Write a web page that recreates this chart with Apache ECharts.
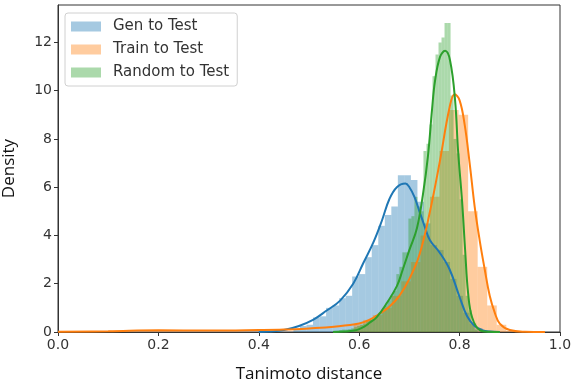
<!DOCTYPE html>
<html>
<head>
<meta charset="utf-8">
<script src="https://cdn.jsdelivr.net/npm/echarts@6/dist/echarts.min.js"></script>
<style>
  html, body { margin: 0; padding: 0; background: #fff; }
  #chart { width: 577px; height: 388px; }
</style>
</head>
<body>
<div id="chart"></div>
<script>
// tanimoto distance distributions (histogram + kde), seaborn distplot look-alike

var seriesNames = ['Gen to Test', 'Train to Test', 'Random to Test'];
var xTicks = [0, 0.2, 0.4, 0.6, 0.8, 1.0];
var yTicks = [0, 2, 4, 6, 8, 10, 12];

// histogram bins: first left edge, bin width, bar heights
var genBinStart = 0.469;
var genBinWidth = 0.013;
var genHeights = [0.1, 0.25, 0.3, 0.6, 0.65, 1.0, 1.1, 1.4, 1.5, 2.3, 2.4, 3.1, 3.6, 4.4, 4.85,
    5.2, 6.5, 6.5, 6.3, 5.4, 4.5, 3.6, 3.4, 2.9, 2.2, 1.5, 0.8, 0.35, 0.15, 0.05];

var trainBinStart = 0.589;
var trainBinWidth = 0.019;
var trainHeights = [0.3, 0.5, 0.7, 1.0, 1.5, 2.1, 2.9, 4.0, 5.6, 7.5, 9.2, 9.0, 5.0, 2.7, 1.1, 0.3, 0.05];

var randBinStart = 0.548;
var randBinWidth = 0.006;
var randHeights = [0.05, 0.05, 0.08, 0.1, 0.1, 0.12, 0.15, 0.2, 0.25, 0.3, 0.35, 0.45, 0.5, 0.55,
    0.7, 0.8, 0.9, 1.1, 1.3, 1.5, 1.7, 2.4, 2.7, 3.3, 3.3, 4.7, 4.8, 5.6, 5.2, 5.0,
    7.5, 7.8, 8.6, 10.6, 11.5, 12.0, 12.2, 12.8, 12.8, 9.8, 8.0, 7.4, 5.5, 3.2, 1.5, 0.9, 0.35, 0.1];

// kde curves
var genKdeX = [0.40, 0.42, 0.45, 0.48, 0.508, 0.536, 0.562, 0.588, 0.608, 0.628, 0.645, 0.66, 0.675, 0.692,
    0.70, 0.71, 0.72, 0.73, 0.741, 0.76, 0.78, 0.80, 0.815, 0.83, 0.845, 0.86, 0.88];
var genKdeY = [0, 0.02, 0.08, 0.25, 0.5, 0.9, 1.3, 2.0, 2.85, 3.7, 4.6, 5.5, 6.0, 6.15,
    6.0, 5.6, 5.0, 4.4, 3.8, 3.3, 2.6, 1.45, 0.65, 0.25, 0.08, 0.02, 0];

var trainKdeX = [0, 0.1, 0.2, 0.3, 0.4, 0.45, 0.5, 0.55, 0.6, 0.62, 0.64, 0.66, 0.68, 0.70, 0.72, 0.74,
    0.76, 0.78, 0.79, 0.80, 0.81, 0.82, 0.83, 0.84, 0.85, 0.86, 0.87, 0.88, 0.9, 0.93, 0.97];
var trainKdeY = [0.01, 0.03, 0.07, 0.06, 0.08, 0.1, 0.15, 0.22, 0.35, 0.5, 0.75, 1.05, 1.5, 2.2, 3.2, 4.9,
    7.0, 9.3, 9.85, 9.6, 8.6, 7.0, 5.2, 3.8, 2.6, 1.5, 0.8, 0.35, 0.08, 0.01, 0];

var randKdeX = [0.548, 0.57, 0.59, 0.60, 0.61, 0.62, 0.635, 0.655, 0.675, 0.687, 0.70, 0.715, 0.727, 0.737,
    0.745, 0.751, 0.761, 0.771, 0.781, 0.791, 0.797, 0.805, 0.811, 0.817, 0.825, 0.84, 0.86, 0.88];
var randKdeY = [0, 0.02, 0.06, 0.12, 0.22, 0.37, 0.62, 1.2, 1.9, 2.6, 3.4, 4.3, 5.7, 7.3,
    9.2, 10.4, 11.4, 11.65, 11.25, 9.6, 7.5, 5.4, 3.4, 1.6, 0.6, 0.08, 0.01, 0];

var lineColors = ['#1f77b4', '#ff7f0e', '#2ca02c'];
var fillColors = ['rgba(31,119,180,0.4)', 'rgba(255,127,14,0.4)', 'rgba(44,160,44,0.4)'];

function makeBins(start, width, heights) {
    var out = [];
    heights.forEach(function (h, i) {
        out.push([start + i * width, start + (i + 1) * width, h]);
    });
    return out;
}

function zipXY(xs, ys) {
    return xs.map(function (x, i) { return [x, ys[i]]; });
}

function renderBar(params, api) {
    var p0 = api.coord([api.value(0), api.value(2)]);
    var p1 = api.coord([api.value(1), 0]);
    return {
        type: 'rect',
        shape: { x: p0[0], y: p0[1], width: p1[0] - p0[0], height: p1[1] - p0[1] },
        style: { fill: api.visual('color') }
    };
}

function histSeries(idx, bins) {
    return {
        name: seriesNames[idx],
        type: 'custom',
        renderItem: renderBar,
        encode: { x: [0, 1], y: 2 },
        itemStyle: { color: fillColors[idx] },
        data: bins,
        z: 1,
        silent: true
    };
}

function kdeSeries(idx, pts) {
    return {
        name: seriesNames[idx] + ' kde',
        type: 'line',
        data: pts,
        smooth: 0.4,
        showSymbol: false,
        lineStyle: { color: lineColors[idx], width: 2 },
        itemStyle: { color: lineColors[idx] },
        z: 3,
        silent: true
    };
}

var chart = echarts.init(document.getElementById('chart'));

var option = {
    animation: false,
    backgroundColor: '#fff',
    grid: {
        left: 58, right: 17, top: 5, bottom: 56,
        outerBoundsMode: 'none',
        containLabel: false,
        show: true, borderColor: '#333', borderWidth: 1
    },
    legend: {
        data: seriesNames,
        orient: 'vertical',
        left: 65, top: 13,
        icon: 'rect',
        itemWidth: 30, itemHeight: 10,
        itemGap: 6,
        padding: [5, 8, 5, 6],
        backgroundColor: 'rgba(255,255,255,0.8)',
        borderColor: '#d0d0d0', borderWidth: 1, borderRadius: 3,
        textStyle: { fontFamily: 'DejaVu Sans', fontSize: 15, color: '#333', lineHeight: 17, padding: [0, 0, 0, 7] }
    },
    xAxis: {
        type: 'value',
        min: 0, max: 1, interval: 0.2,
        name: 'Tanimoto distance',
        nameLocation: 'middle',
        nameGap: 34,
        nameTextStyle: { fontFamily: 'Open Sans', fontSize: 17, color: '#111' },
        axisLine: { show: true, lineStyle: { color: '#333' } },
        axisTick: { show: true, inside: false, length: 4, lineStyle: { color: '#333' } },
        axisLabel: {
            fontFamily: 'DejaVu Sans', fontSize: 14, color: '#333', margin: 6,
            formatter: function (v) { return v.toFixed(1); }
        },
        splitLine: { show: false }
    },
    yAxis: {
        type: 'value',
        min: 0, max: 13.55,
        name: 'Density',
        nameLocation: 'middle',
        nameGap: 40,
        nameRotate: 90,
        nameTextStyle: { fontFamily: 'Open Sans', fontSize: 17, color: '#111' },
        axisLine: { show: true, lineStyle: { color: '#333' } },
        axisTick: { show: true, inside: false, length: 4, customValues: yTicks, lineStyle: { color: '#333' } },
        axisLabel: { fontFamily: 'DejaVu Sans', fontSize: 14, color: '#333', margin: 6, customValues: yTicks },
        splitLine: { show: false }
    },
    series: [
        histSeries(0, makeBins(genBinStart, genBinWidth, genHeights)),
        histSeries(1, makeBins(trainBinStart, trainBinWidth, trainHeights)),
        histSeries(2, makeBins(randBinStart, randBinWidth, randHeights)),
        kdeSeries(0, zipXY(genKdeX, genKdeY)),
        kdeSeries(1, zipXY(trainKdeX, trainKdeY)),
        kdeSeries(2, zipXY(randKdeX, randKdeY))
    ]
};

chart.setOption(option);
</script>
</body>
</html>
